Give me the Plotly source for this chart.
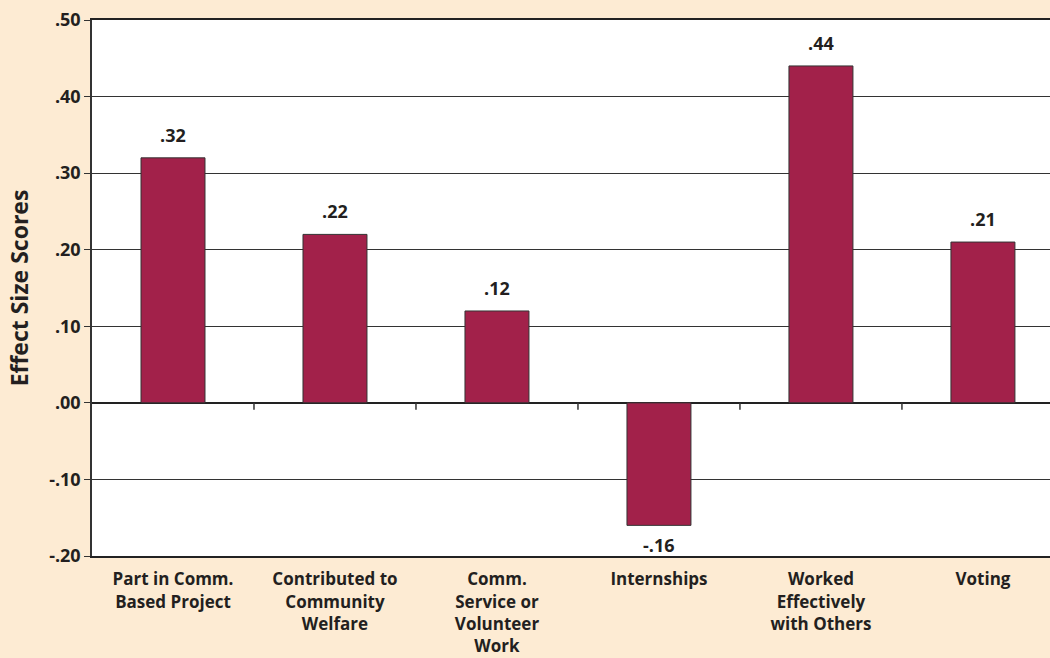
import plotly.graph_objects as go

categories = ["Part in Comm.<br>Based Project", "Contributed to<br>Community<br>Welfare",
              "Comm.<br>Service or<br>Volunteer<br>Work", "Internships",
              "Worked<br>Effectively<br>with Others", "Voting"]
values = [0.32, 0.22, 0.12, -0.16, 0.44, 0.21]
value_labels = [".32", ".22", ".12", "-.16", ".44", ".21"]
ytick_vals = [-0.2, -0.1, 0.0, 0.1, 0.2, 0.3, 0.4, 0.5]
ytick_text = ["-.20", "-.10", ".00", ".10", ".20", ".30", ".40", ".50"]

FONT = "Open Sans"
TXT = "#231F20"
BG = "#FDEBD3"
BAR = "#A2214A"

x_idx = list(range(len(categories)))

fig = go.Figure()
fig.add_trace(go.Bar(
    x=x_idx, y=values, width=0.395,
    marker=dict(color=BAR, line=dict(color="#333333", width=1)),
))

# value labels above/below bars
for i, (v, lab) in enumerate(zip(values, value_labels)):
    fig.add_annotation(
        x=i, y=v, text=lab, showarrow=False, xref="x", yref="y",
        yanchor="bottom" if v >= 0 else "top",
        yshift=9 if v >= 0 else -6,
        font=dict(family=FONT, size=18, color=TXT, weight="bold"),
    )

# small tick marks on the zero line between categories
for i in range(len(categories) - 1):
    fig.add_shape(type="line", xref="x", yref="y",
                  x0=i + 0.5, x1=i + 0.5, y0=0, y1=-0.009,
                  line=dict(color="#333333", width=1.5))

fig.update_layout(
    width=1050, height=658,
    paper_bgcolor=BG, plot_bgcolor="white",
    margin=dict(l=92, r=0, t=20, b=102),
    showlegend=False,
    font=dict(family=FONT, color=TXT),
)
fig.update_xaxes(
    range=[-0.5, 5.414], tickvals=x_idx, ticktext=categories,
    tickfont=dict(family=FONT, size=17, color=TXT, weight="bold"),
    ticklabelstandoff=7, automargin=False,
    showgrid=False, ticks="", showline=True, linecolor="#222222", linewidth=2,
    mirror=True, zeroline=False,
)
fig.update_yaxes(
    range=[-0.2, 0.5], tickvals=ytick_vals, ticktext=ytick_text,
    tickfont=dict(family=FONT, size=18, color=TXT, weight="bold"),
    showgrid=True, gridcolor="#333333", gridwidth=1,
    zeroline=True, zerolinecolor="#222222", zerolinewidth=1.5,
    showline=True, linecolor="#333333", linewidth=1.5,
    ticks="outside", ticklen=6, tickcolor="#333333", automargin=False,
    title=dict(text="Effect Size Scores", standoff=14,
               font=dict(family=FONT, size=23, color=TXT, weight="bold")),
)

fig.write_html("out.html")
